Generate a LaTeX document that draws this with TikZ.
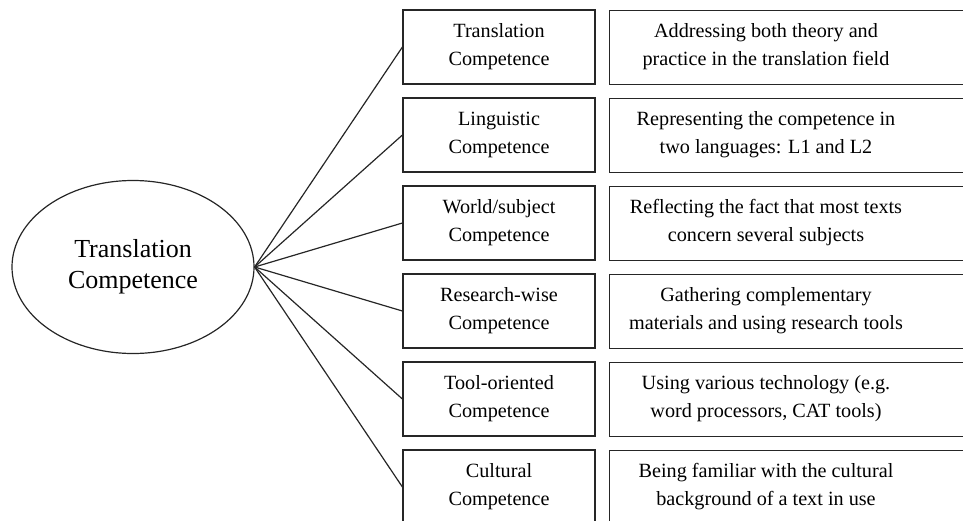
\documentclass[tikz,border=0pt]{standalone}
\usepackage{fontspec}
\setmainfont{Liberation Serif}
\usetikzlibrary{shapes.geometric}
\begin{document}
\begin{tikzpicture}[x=1pt,y=-1pt,
  ln/.style={line width=1.2pt, draw=black!85},
  lbox/.style={ln, rectangle, minimum width=192pt, minimum height=74pt, inner sep=0pt,
    align=center, font=\fontsize{20.2}{28}\selectfont},
  rbox/.style={ln, rectangle, minimum width=380pt, minimum height=74pt, inner sep=0pt, anchor=north west},
  rtext/.style={align=center, inner sep=0pt, font=\fontsize{20.2}{28}\selectfont},
  ell/.style={ln, ellipse, minimum width=242pt, minimum height=173pt, inner sep=0pt,
    align=center, font=\fontsize{26}{31}\selectfont}]
\useasboundingbox (0,0) rectangle (963,520);
\node[ell] (tc) at (133,267) {Translation\\Competence};
\foreach \i/\a/\b in {
  1/{Translation\\Competence}/{Addressing both theory and\\practice in the translation field},
  2/{Linguistic\\Competence}/{Representing the competence in\\two languages: L1 and L2},
  3/{World/subject\\Competence}/{Reflecting the fact that most texts\\concern several subjects},
  4/{Research-wise\\Competence}/{Gathering complementary\\materials and using research tools},
  5/{Tool-oriented\\Competence}/{Using various technology (e.g.\\word processors, CAT tools)},
  6/{Cultural\\Competence}/{Being familiar with the cultural\\background of a text in use}}{
  \pgfmathsetmacro{\yc}{47+88*(\i-1)}
  \pgfmathsetmacro{\yt}{10+88*(\i-1)}
  \node[lbox] (l\i) at (499,\yc) {\a};
  \node[rbox] (r\i) at (609,\yt) {};
  \node[rtext] (t\i) at (766,\yc) {\b};
  \draw[ln] (tc.east) -- (l\i.west);
}
\end{tikzpicture}
\end{document}
